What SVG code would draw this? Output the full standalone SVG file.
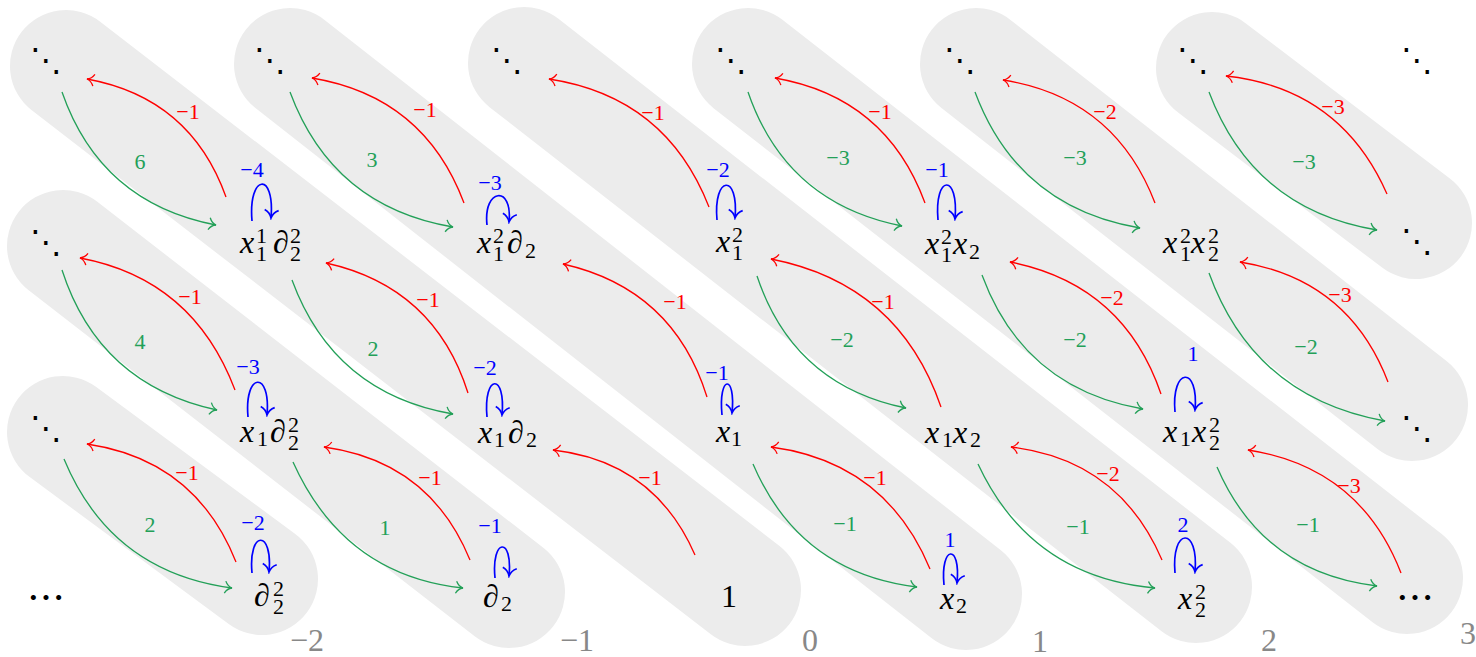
<svg xmlns="http://www.w3.org/2000/svg" width="1476" height="657" viewBox="0 0 1476 657">
<defs>
<marker id="aR" viewBox="-9 -7 11 14" markerWidth="11" markerHeight="14" refX="0" refY="0" orient="auto" markerUnits="userSpaceOnUse"><path d="M-7,-6 C-5,-2 -2,-0.5 0,0 C-2,0.5 -5,2 -7,6" fill="none" stroke="#f00" stroke-width="1.3"/></marker>
<marker id="aG" viewBox="-9 -7 11 14" markerWidth="11" markerHeight="14" refX="0" refY="0" orient="auto" markerUnits="userSpaceOnUse"><path d="M-7,-6 C-5,-2 -2,-0.5 0,0 C-2,0.5 -5,2 -7,6" fill="none" stroke="#23a058" stroke-width="1.3"/></marker>
<marker id="aB" viewBox="-10 -8 12 16" markerWidth="12" markerHeight="16" refX="0" refY="0" orient="auto" markerUnits="userSpaceOnUse"><path d="M-8,-7 C-6,-2.5 -2,-0.6 0,0 C-2,0.6 -6,2.5 -8,7" fill="none" stroke="#00f" stroke-width="1.7"/></marker>
</defs>
<rect width="1476" height="657" fill="#fff"/>
<g id="pills" stroke="#ececec" stroke-width="112" stroke-linecap="round" fill="none">
<line x1="63" y1="432" x2="262" y2="579"/>
<line x1="63" y1="246" x2="509" y2="592"/>
<line x1="66" y1="66" x2="745" y2="590"/>
<line x1="290" y1="64" x2="966" y2="594"/>
<line x1="524" y1="63" x2="1196" y2="587"/>
<line x1="748" y1="64" x2="1407" y2="578"/>
<line x1="976" y1="64" x2="1412" y2="405"/>
<line x1="1212" y1="68" x2="1416" y2="223"/>
</g>
<g id="connectors" fill="none">
<g stroke="#f00" stroke-width="1.3" marker-end="url(#aR)">
<path d="M236,562 Q195.6,460 87,444"/>
<path d="M235,390 Q193,279 80,258"/>
<path d="M470,560 Q429.6,461.3 324,447"/>
<path d="M226,197 Q190.6,97.9 87,79"/>
<path d="M468,393 Q434.5,287 326,263"/>
<path d="M695,555 Q654.3,461.5 553,450"/>
<path d="M464,203 Q424.1,96.6 312,78"/>
<path d="M707,397 Q673.4,288.9 563,264"/>
<path d="M930,569 Q885.7,462.1 771,447"/>
<path d="M709,207 Q666,96.8 549,79"/>
<path d="M941,407 Q898.7,283.9 771,259"/>
<path d="M1162,560 Q1119.1,459.9 1011,447"/>
<path d="M925,203 Q886.1,97.2 775,78"/>
<path d="M1161,394 Q1123.6,284.4 1010,262"/>
<path d="M1401,573 Q1360,467.3 1248,450"/>
<path d="M1155,203 Q1114.5,97.6 1003,80"/>
<path d="M1388,382 Q1348.6,279.3 1240,262"/>
<path d="M1387,194 Q1340.6,88.5 1226,76"/>
</g>
<g stroke="#23a058" stroke-width="1.3" marker-end="url(#aG)">
<path d="M64,459 Q110.8,572 232,588"/>
<path d="M62,270 Q99.1,384.7 217,410"/>
<path d="M293,462 Q344.1,575.5 463,588"/>
<path d="M62,92 Q100.6,203 216,225"/>
<path d="M292,280 Q333.8,393.5 453,414"/>
<path d="M290,92 Q332.5,206.6 453,227"/>
<path d="M753,464 Q799.5,572.8 917,587"/>
<path d="M757,276 Q793.4,385 906,408"/>
<path d="M978,464 Q1030.7,577.1 1155,588"/>
<path d="M748,92 Q786.3,203.5 902,226"/>
<path d="M982,275 Q1023.8,388.5 1143,409"/>
<path d="M1217,467 Q1262.6,572.7 1377,586"/>
<path d="M975,92 Q1018.2,207.6 1140,228"/>
<path d="M1209,273 Q1254.3,397.8 1385,421"/>
<path d="M1209,92 Q1253.2,209.5 1377,230"/>
</g>
<g stroke="#00f" stroke-width="1.7" marker-end="url(#aB)">
<path d="M252,221 C248,174 275,171 271,218"/>
<path d="M487,225 C483,188 513,185 509,222"/>
<path d="M717,220 C713,175 739,173 735,218"/>
<path d="M938,220 C934,174 959,173 955,219"/>
<path d="M248,417 C244,372 271,370 267,415"/>
<path d="M487,417 C483,374 506,372 502,415"/>
<path d="M722,415 C718,375 736,373 732,413"/>
<path d="M1175,412 C1171,367 1199,365 1195,410"/>
<path d="M252,573 C248,530 273,529 269,572"/>
<path d="M495,578 C491,538 513,536 509,576"/>
<path d="M944,585 C940,545 961,543 957,583"/>
<path d="M1175,573 C1171,527 1199,526 1195,572"/>
</g>
</g>
<text x="307" y="651" font-family="Times New Roman, Liberation Serif, serif" font-size="32" fill="#888" text-anchor="middle">−2</text>
<text x="577" y="651" font-family="Times New Roman, Liberation Serif, serif" font-size="32" fill="#888" text-anchor="middle">−1</text>
<text x="810" y="651" font-family="Times New Roman, Liberation Serif, serif" font-size="32" fill="#888" text-anchor="middle">0</text>
<text x="1040" y="652" font-family="Times New Roman, Liberation Serif, serif" font-size="32" fill="#888" text-anchor="middle">1</text>
<text x="1269" y="651" font-family="Times New Roman, Liberation Serif, serif" font-size="32" fill="#888" text-anchor="middle">2</text>
<text x="1468" y="644" font-family="Times New Roman, Liberation Serif, serif" font-size="32" fill="#888" text-anchor="middle">3</text>
<text x="187" y="480" font-family="Times New Roman, Liberation Serif, serif" font-size="22" fill="#f00" text-anchor="middle">−1</text>
<text x="190" y="304" font-family="Times New Roman, Liberation Serif, serif" font-size="22" fill="#f00" text-anchor="middle">−1</text>
<text x="430" y="485" font-family="Times New Roman, Liberation Serif, serif" font-size="22" fill="#f00" text-anchor="middle">−1</text>
<text x="188" y="119" font-family="Times New Roman, Liberation Serif, serif" font-size="22" fill="#f00" text-anchor="middle">−1</text>
<text x="428" y="307" font-family="Times New Roman, Liberation Serif, serif" font-size="22" fill="#f00" text-anchor="middle">−1</text>
<text x="650" y="485" font-family="Times New Roman, Liberation Serif, serif" font-size="22" fill="#f00" text-anchor="middle">−1</text>
<text x="425" y="117" font-family="Times New Roman, Liberation Serif, serif" font-size="22" fill="#f00" text-anchor="middle">−1</text>
<text x="675" y="309" font-family="Times New Roman, Liberation Serif, serif" font-size="22" fill="#f00" text-anchor="middle">−1</text>
<text x="875" y="485" font-family="Times New Roman, Liberation Serif, serif" font-size="22" fill="#f00" text-anchor="middle">−1</text>
<text x="653" y="120" font-family="Times New Roman, Liberation Serif, serif" font-size="22" fill="#f00" text-anchor="middle">−1</text>
<text x="883" y="309" font-family="Times New Roman, Liberation Serif, serif" font-size="22" fill="#f00" text-anchor="middle">−1</text>
<text x="1108" y="481" font-family="Times New Roman, Liberation Serif, serif" font-size="22" fill="#f00" text-anchor="middle">−2</text>
<text x="880" y="119" font-family="Times New Roman, Liberation Serif, serif" font-size="22" fill="#f00" text-anchor="middle">−1</text>
<text x="1112" y="305" font-family="Times New Roman, Liberation Serif, serif" font-size="22" fill="#f00" text-anchor="middle">−2</text>
<text x="1349" y="493" font-family="Times New Roman, Liberation Serif, serif" font-size="22" fill="#f00" text-anchor="middle">−3</text>
<text x="1105" y="119" font-family="Times New Roman, Liberation Serif, serif" font-size="22" fill="#f00" text-anchor="middle">−2</text>
<text x="1340" y="302" font-family="Times New Roman, Liberation Serif, serif" font-size="22" fill="#f00" text-anchor="middle">−3</text>
<text x="1333" y="114" font-family="Times New Roman, Liberation Serif, serif" font-size="22" fill="#f00" text-anchor="middle">−3</text>
<text x="150" y="532" font-family="Times New Roman, Liberation Serif, serif" font-size="22" fill="#23a058" text-anchor="middle">2</text>
<text x="140" y="349" font-family="Times New Roman, Liberation Serif, serif" font-size="22" fill="#23a058" text-anchor="middle">4</text>
<text x="385" y="535" font-family="Times New Roman, Liberation Serif, serif" font-size="22" fill="#23a058" text-anchor="middle">1</text>
<text x="140" y="169" font-family="Times New Roman, Liberation Serif, serif" font-size="22" fill="#23a058" text-anchor="middle">6</text>
<text x="373" y="356" font-family="Times New Roman, Liberation Serif, serif" font-size="22" fill="#23a058" text-anchor="middle">2</text>
<text x="372" y="167" font-family="Times New Roman, Liberation Serif, serif" font-size="22" fill="#23a058" text-anchor="middle">3</text>
<text x="845" y="531" font-family="Times New Roman, Liberation Serif, serif" font-size="22" fill="#23a058" text-anchor="middle">−1</text>
<text x="842" y="347" font-family="Times New Roman, Liberation Serif, serif" font-size="22" fill="#23a058" text-anchor="middle">−2</text>
<text x="1078" y="534" font-family="Times New Roman, Liberation Serif, serif" font-size="22" fill="#23a058" text-anchor="middle">−1</text>
<text x="838" y="165" font-family="Times New Roman, Liberation Serif, serif" font-size="22" fill="#23a058" text-anchor="middle">−3</text>
<text x="1075" y="347" font-family="Times New Roman, Liberation Serif, serif" font-size="22" fill="#23a058" text-anchor="middle">−2</text>
<text x="1308" y="532" font-family="Times New Roman, Liberation Serif, serif" font-size="22" fill="#23a058" text-anchor="middle">−1</text>
<text x="1075" y="165" font-family="Times New Roman, Liberation Serif, serif" font-size="22" fill="#23a058" text-anchor="middle">−3</text>
<text x="1306" y="354" font-family="Times New Roman, Liberation Serif, serif" font-size="22" fill="#23a058" text-anchor="middle">−2</text>
<text x="1304" y="169" font-family="Times New Roman, Liberation Serif, serif" font-size="22" fill="#23a058" text-anchor="middle">−3</text>
<text x="252" y="177" font-family="Times New Roman, Liberation Serif, serif" font-size="22" fill="#00f" text-anchor="middle">−4</text>
<text x="490" y="190" font-family="Times New Roman, Liberation Serif, serif" font-size="22" fill="#00f" text-anchor="middle">−3</text>
<text x="718" y="177" font-family="Times New Roman, Liberation Serif, serif" font-size="22" fill="#00f" text-anchor="middle">−2</text>
<text x="937" y="177" font-family="Times New Roman, Liberation Serif, serif" font-size="22" fill="#00f" text-anchor="middle">−1</text>
<text x="248" y="374" font-family="Times New Roman, Liberation Serif, serif" font-size="22" fill="#00f" text-anchor="middle">−3</text>
<text x="485" y="375" font-family="Times New Roman, Liberation Serif, serif" font-size="22" fill="#00f" text-anchor="middle">−2</text>
<text x="717" y="380" font-family="Times New Roman, Liberation Serif, serif" font-size="22" fill="#00f" text-anchor="middle">−1</text>
<text x="1193" y="361" font-family="Times New Roman, Liberation Serif, serif" font-size="22" fill="#00f" text-anchor="middle">1</text>
<text x="253" y="530" font-family="Times New Roman, Liberation Serif, serif" font-size="22" fill="#00f" text-anchor="middle">−2</text>
<text x="490" y="533" font-family="Times New Roman, Liberation Serif, serif" font-size="22" fill="#00f" text-anchor="middle">−1</text>
<text x="950" y="547" font-family="Times New Roman, Liberation Serif, serif" font-size="22" fill="#00f" text-anchor="middle">1</text>
<text x="1183" y="532" font-family="Times New Roman, Liberation Serif, serif" font-size="22" fill="#00f" text-anchor="middle">2</text>
<g id="n-dots-0-0"><text x="46" y="71" font-family="DejaVu Sans" font-size="32" text-anchor="middle">⋱</text></g>
<g id="n-dots-1-0"><text x="270" y="71" font-family="DejaVu Sans" font-size="32" text-anchor="middle">⋱</text></g>
<g id="n-dots-2-0"><text x="507" y="71" font-family="DejaVu Sans" font-size="32" text-anchor="middle">⋱</text></g>
<g id="n-dots-3-0"><text x="731" y="71" font-family="DejaVu Sans" font-size="32" text-anchor="middle">⋱</text></g>
<g id="n-dots-4-0"><text x="960" y="71" font-family="DejaVu Sans" font-size="32" text-anchor="middle">⋱</text></g>
<g id="n-dots-5-0"><text x="1193" y="71" font-family="DejaVu Sans" font-size="32" text-anchor="middle">⋱</text></g>
<g id="n-dots-6-0"><text x="1417" y="71" font-family="DejaVu Sans" font-size="32" text-anchor="middle">⋱</text></g>
<g id="n-dots-0-1"><text x="46" y="253" font-family="DejaVu Sans" font-size="32" text-anchor="middle">⋱</text></g>
<g id="n-dots-0-2"><text x="46" y="439" font-family="DejaVu Sans" font-size="32" text-anchor="middle">⋱</text></g>
<g id="n-dots-6-1"><text x="1417" y="252" font-family="DejaVu Sans" font-size="32" text-anchor="middle">⋱</text></g>
<g id="n-dots-6-2"><text x="1417" y="439" font-family="DejaVu Sans" font-size="32" text-anchor="middle">⋱</text></g>
<g id="n-dots-0-3"><text x="46" y="612" font-family="Noto Sans CJK JP" font-size="38" text-anchor="middle">⋯</text></g>
<g id="n-dots-6-3"><text x="1415" y="612" font-family="Noto Sans CJK JP" font-size="38" text-anchor="middle">⋯</text></g>
<g id="n-x1-1-d2-2"><text y="253" font-family="Times New Roman, Liberation Serif, serif" font-size="32"><tspan font-style="italic" x="240">x</tspan><tspan font-size="22" x="256" y="243">1</tspan><tspan font-size="22" x="256" y="261">1</tspan><tspan font-style="italic" x="273" y="253">∂</tspan><tspan font-size="22" x="290" y="243">2</tspan><tspan font-size="22" x="290" y="261">2</tspan></text></g>
<g id="n-x1-2-d2"><text y="253" font-family="Times New Roman, Liberation Serif, serif" font-size="32"><tspan font-style="italic" x="477">x</tspan><tspan font-size="22" x="493" y="243">2</tspan><tspan font-size="22" x="493" y="261">1</tspan><tspan font-style="italic" x="507" y="253">∂</tspan><tspan font-size="22" x="525" y="258">2</tspan></text></g>
<g id="n-x1-2"><text y="252" font-family="Times New Roman, Liberation Serif, serif" font-size="32"><tspan font-style="italic" x="716">x</tspan><tspan font-size="22" x="732" y="242">2</tspan><tspan font-size="22" x="732" y="260">1</tspan></text></g>
<g id="n-x1-2-x2"><text y="254" font-family="Times New Roman, Liberation Serif, serif" font-size="32"><tspan font-style="italic" x="925">x</tspan><tspan font-size="22" x="941" y="244">2</tspan><tspan font-size="22" x="941" y="262">1</tspan><tspan font-style="italic" x="953" y="254">x</tspan><tspan font-size="22" x="969" y="259">2</tspan></text></g>
<g id="n-x1-2-x2-2"><text y="253" font-family="Times New Roman, Liberation Serif, serif" font-size="32"><tspan font-style="italic" x="1163">x</tspan><tspan font-size="22" x="1180" y="243">2</tspan><tspan font-size="22" x="1180" y="261">1</tspan><tspan font-style="italic" x="1191" y="253">x</tspan><tspan font-size="22" x="1208" y="243">2</tspan><tspan font-size="22" x="1208" y="261">2</tspan></text></g>
<g id="n-x1-d2-2"><text y="442" font-family="Times New Roman, Liberation Serif, serif" font-size="32"><tspan font-style="italic" x="240">x</tspan><tspan font-size="22" x="257" y="446">1</tspan><tspan font-style="italic" x="270" y="442">∂</tspan><tspan font-size="22" x="288" y="432">2</tspan><tspan font-size="22" x="288" y="450">2</tspan></text></g>
<g id="n-x1-d2"><text y="443" font-family="Times New Roman, Liberation Serif, serif" font-size="32"><tspan font-style="italic" x="478">x</tspan><tspan font-size="22" x="494" y="447">1</tspan><tspan font-style="italic" x="508" y="443">∂</tspan><tspan font-size="22" x="526" y="447">2</tspan></text></g>
<g id="n-x1"><text y="442" font-family="Times New Roman, Liberation Serif, serif" font-size="32"><tspan font-style="italic" x="716">x</tspan><tspan font-size="22" x="731" y="446">1</tspan></text></g>
<g id="n-x1-x2"><text y="443" font-family="Times New Roman, Liberation Serif, serif" font-size="32"><tspan font-style="italic" x="925">x</tspan><tspan font-size="22" x="942" y="447">1</tspan><tspan font-style="italic" x="953" y="443">x</tspan><tspan font-size="22" x="970" y="447">2</tspan></text></g>
<g id="n-x1-x2-2"><text y="442" font-family="Times New Roman, Liberation Serif, serif" font-size="32"><tspan font-style="italic" x="1163">x</tspan><tspan font-size="22" x="1180" y="446">1</tspan><tspan font-style="italic" x="1192" y="442">x</tspan><tspan font-size="22" x="1209" y="432">2</tspan><tspan font-size="22" x="1209" y="450">2</tspan></text></g>
<g id="n-d2-2"><text y="606" font-family="Times New Roman, Liberation Serif, serif" font-size="32"><tspan font-style="italic" x="254">∂</tspan><tspan font-size="22" x="273" y="596">2</tspan><tspan font-size="22" x="273" y="614">2</tspan></text></g>
<g id="n-d2"><text y="607" font-family="Times New Roman, Liberation Serif, serif" font-size="32"><tspan font-style="italic" x="483">∂</tspan><tspan font-size="22" x="501" y="611">2</tspan></text></g>
<g id="n-1"><text x="721" y="607" font-family="Times New Roman, Liberation Serif, serif" font-size="32">1</text></g>
<g id="n-x2"><text y="609" font-family="Times New Roman, Liberation Serif, serif" font-size="32"><tspan font-style="italic" x="940">x</tspan><tspan font-size="22" x="956" y="613">2</tspan></text></g>
<g id="n-x2-2"><text y="609" font-family="Times New Roman, Liberation Serif, serif" font-size="32"><tspan font-style="italic" x="1178">x</tspan><tspan font-size="22" x="1195" y="599">2</tspan><tspan font-size="22" x="1195" y="617">2</tspan></text></g>
</svg>
